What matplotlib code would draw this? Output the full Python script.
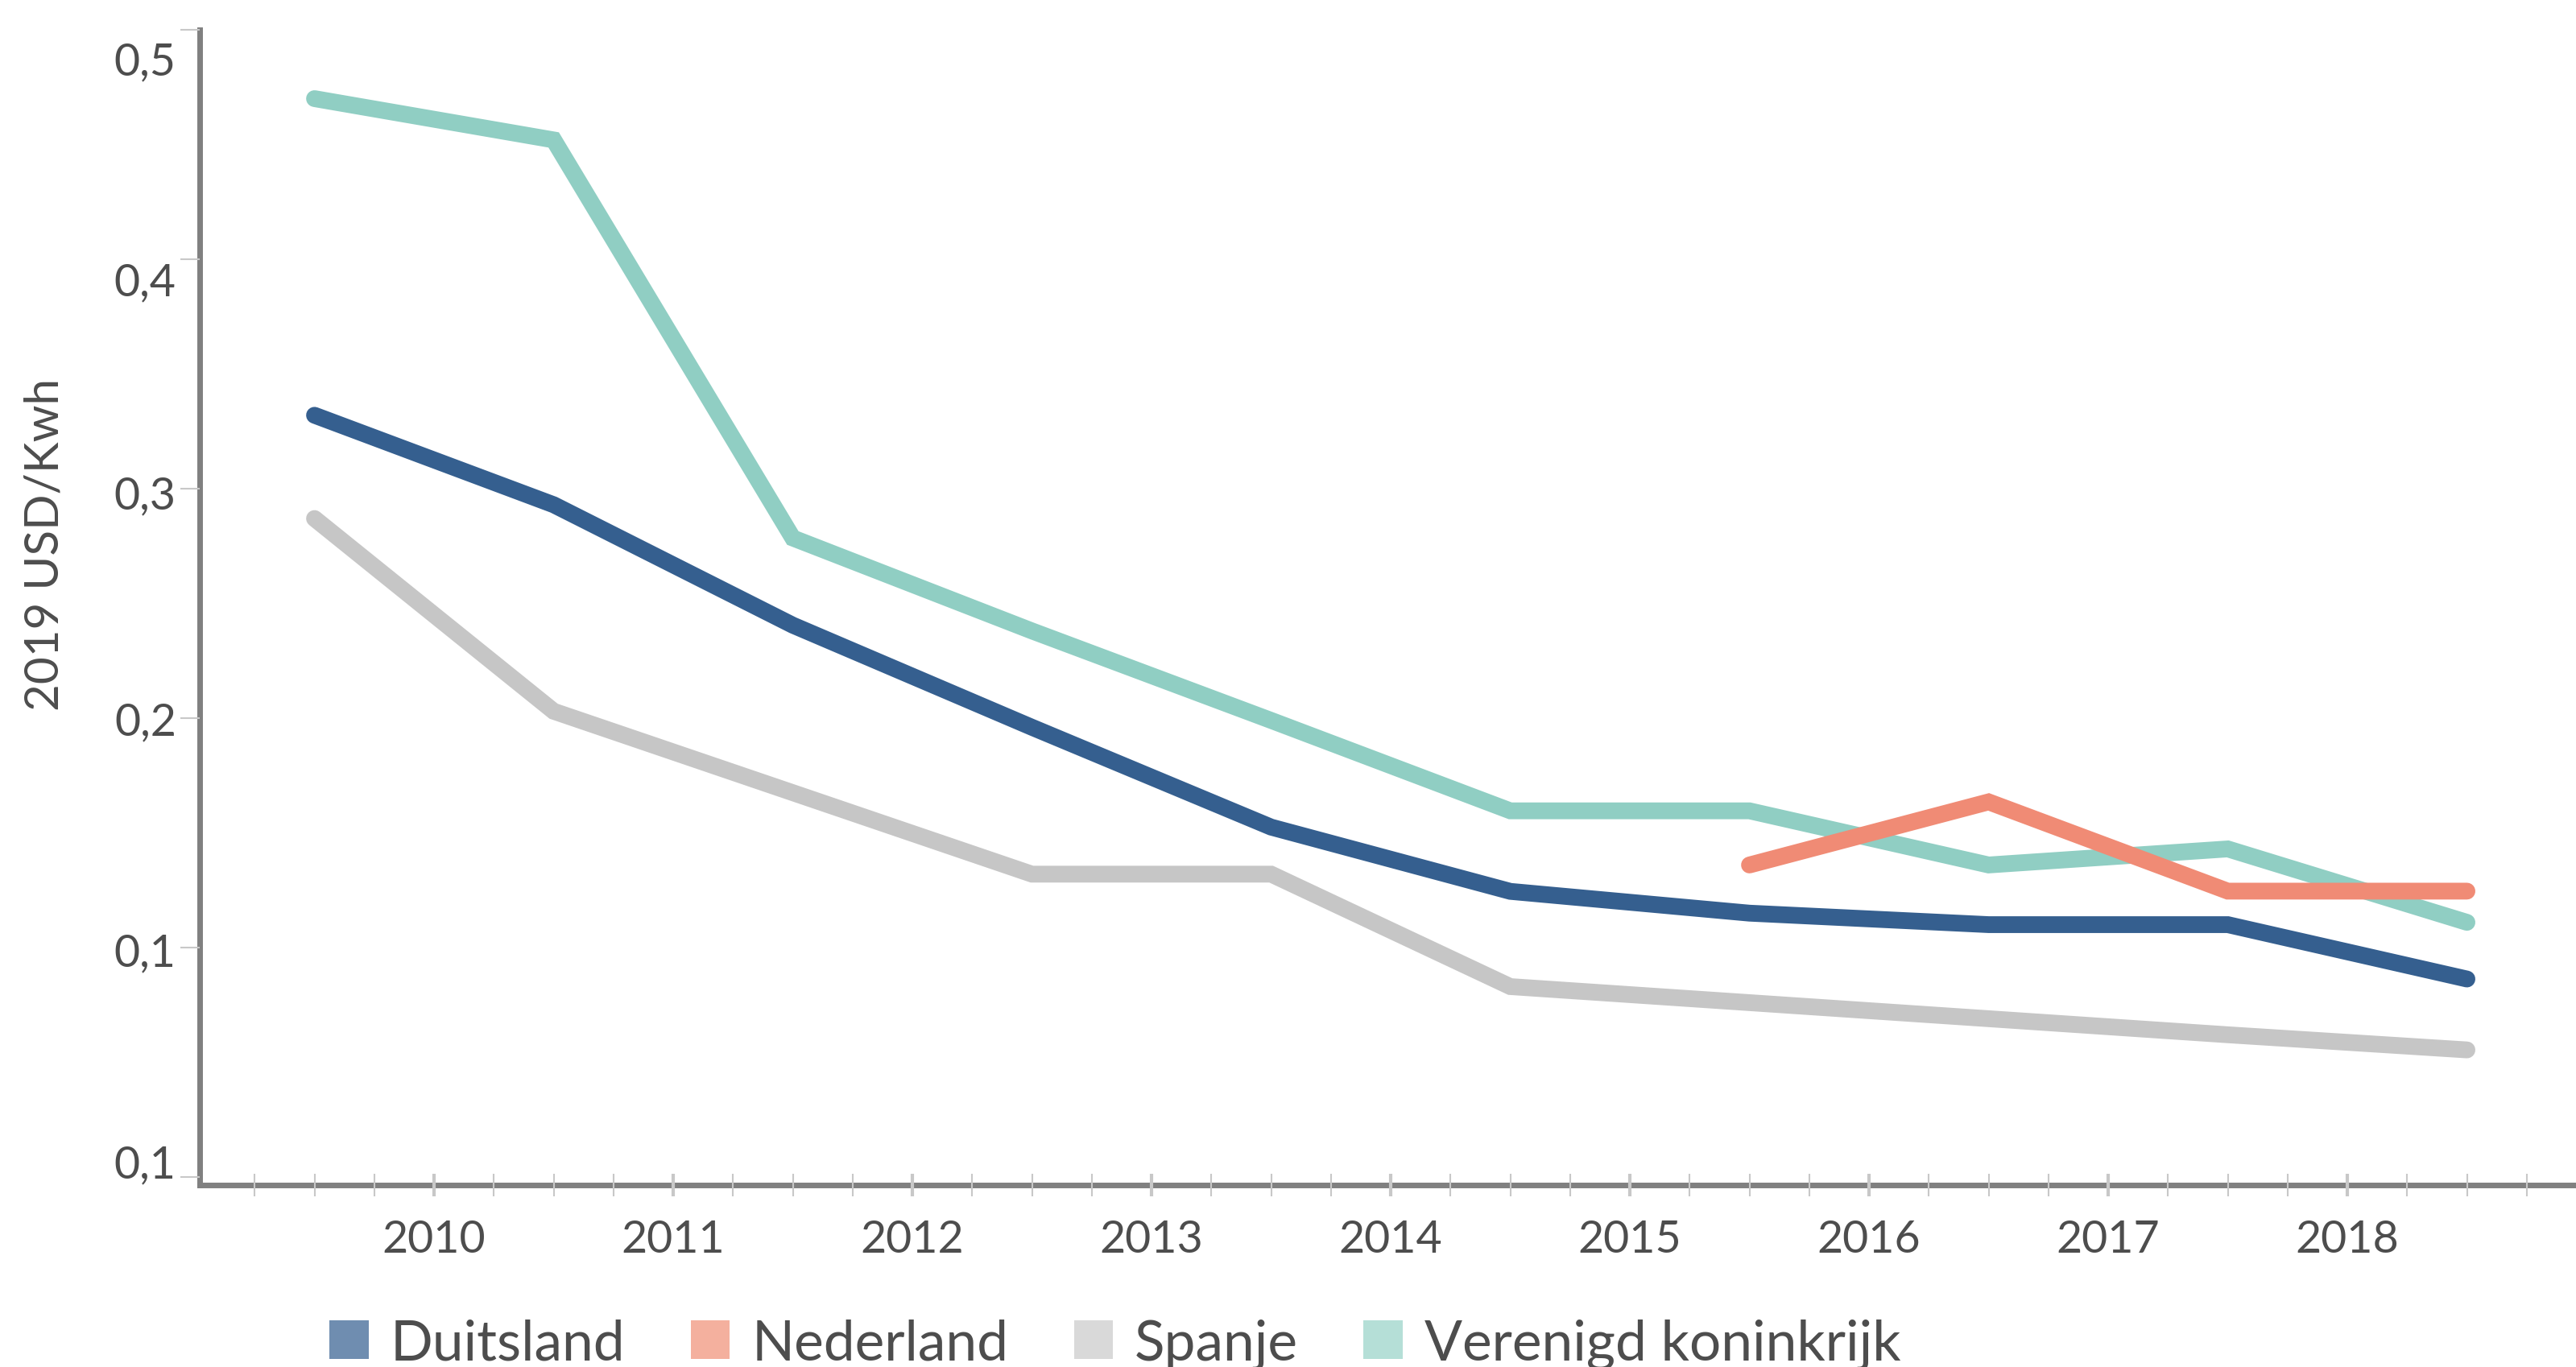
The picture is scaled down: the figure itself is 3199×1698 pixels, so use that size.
import numpy as np
import matplotlib
matplotlib.use('Agg')
import matplotlib.pyplot as plt
from matplotlib.patches import Patch
from matplotlib.transforms import ScaledTranslation

plt.rcParams['font.family'] = ['Lato', 'DejaVu Sans']

# data (one point per year)
years = ['2010', '2011', '2012', '2013', '2014', '2015', '2016', '2017', '2018']
duitsland = [0.332, 0.293, 0.2405, 0.196, 0.1525, 0.1245, 0.115, 0.110, 0.110, 0.0863]
nederland = [np.nan, np.nan, np.nan, np.nan, np.nan, np.nan, 0.136, 0.1635, 0.1246, 0.1246]
spanje = [0.287, 0.203, 0.1675, 0.132, 0.132, 0.083, 0.076, 0.069, 0.062, 0.0554]
verenigd = [0.470, 0.452, 0.2785, 0.238, 0.199, 0.1596, 0.1596, 0.136, 0.143, 0.111]

series_names = ['Duitsland', 'Nederland', 'Spanje', 'Verenigd koninkrijk']
line_colors = ['#355F8F', '#F08B75', '#C6C6C6', '#90CEC3']
legend_colors = ['#6F8DB0', '#F4B09E', '#D9D9D9', '#B5DFD7']
zorders = [3, 5, 2, 4]

y_ticks = [0.0, 0.1, 0.2, 0.3, 0.4, 0.5]
y_labels = ['0,1', '0,1', '0,2', '0,3', '0,4', '0,5']
y_label_shift = [-20, 2, 0, 4, 24, 35]  # px, labels in the original are not centred on ticks

text_color = '#4D4D4D'
axis_color = '#808080'
tick_color = '#C8C8C8'

fig = plt.figure(figsize=(31.99, 16.99), dpi=100)
ax = fig.add_axes([248 / 3199, 1 - 1473 / 1699, 1 - 248 / 3199, (1473 - 38) / 1699])

x = np.arange(len(duitsland))
for vals, col, z in zip([duitsland, nederland, spanje, verenigd], line_colors, zorders):
    ax.plot(x, vals, color=col, lw=15, solid_capstyle='round', solid_joinstyle='miter', zorder=z)

ax.set_xlim(-0.48, 9.456)
ax.set_ylim(-0.0035, 0.5)

for s in ['top', 'right']:
    ax.spines[s].set_visible(False)
for s in ['left', 'bottom']:
    ax.spines[s].set_color(axis_color)
    ax.spines[s].set_linewidth(5)
    ax.spines[s].set_zorder(1)

ax.set_xticks(np.arange(len(years)) + 0.5)
ax.set_xticklabels(years)
minor = [m for m in np.arange(-0.25, 9.3, 0.25) if (m - 0.5) % 1 != 0]
ax.set_xticks(minor, minor=True)
ax.tick_params(axis='x', which='major', direction='inout', length=20, width=3,
               color=tick_color, labelsize=40, labelcolor=text_color, pad=20)
ax.tick_params(axis='x', which='minor', direction='inout', length=20, width=1.5,
               color=tick_color)

ax.set_yticks(y_ticks)
ax.set_yticklabels(y_labels)
ax.tick_params(axis='y', direction='out', length=17, width=1.5, color=tick_color,
               labelsize=40, labelcolor=text_color, pad=4)
for lab, shift in zip(ax.get_yticklabels(), y_label_shift):
    lab.set_transform(lab.get_transform() + ScaledTranslation(0, -shift / 100, fig.dpi_scale_trans))

ax.set_ylabel('2019 USD/Kwh', fontsize=42, color=text_color)
ax.yaxis.set_label_coords(-0.056, 0.555)

handles = [Patch(facecolor=c, edgecolor='none', label=n) for c, n in zip(legend_colors, series_names)]
fig.legend(handles=handles, loc='center left', bbox_to_anchor=(409 / 3199, 1 - 1670 / 1699),
           ncol=4, frameon=False, fontsize=50, labelcolor=text_color,
           handlelength=0.7, handleheight=0.7, handletextpad=0.39, columnspacing=1.17,
           borderpad=0, borderaxespad=0)

fig.savefig('out.png', dpi=100)
